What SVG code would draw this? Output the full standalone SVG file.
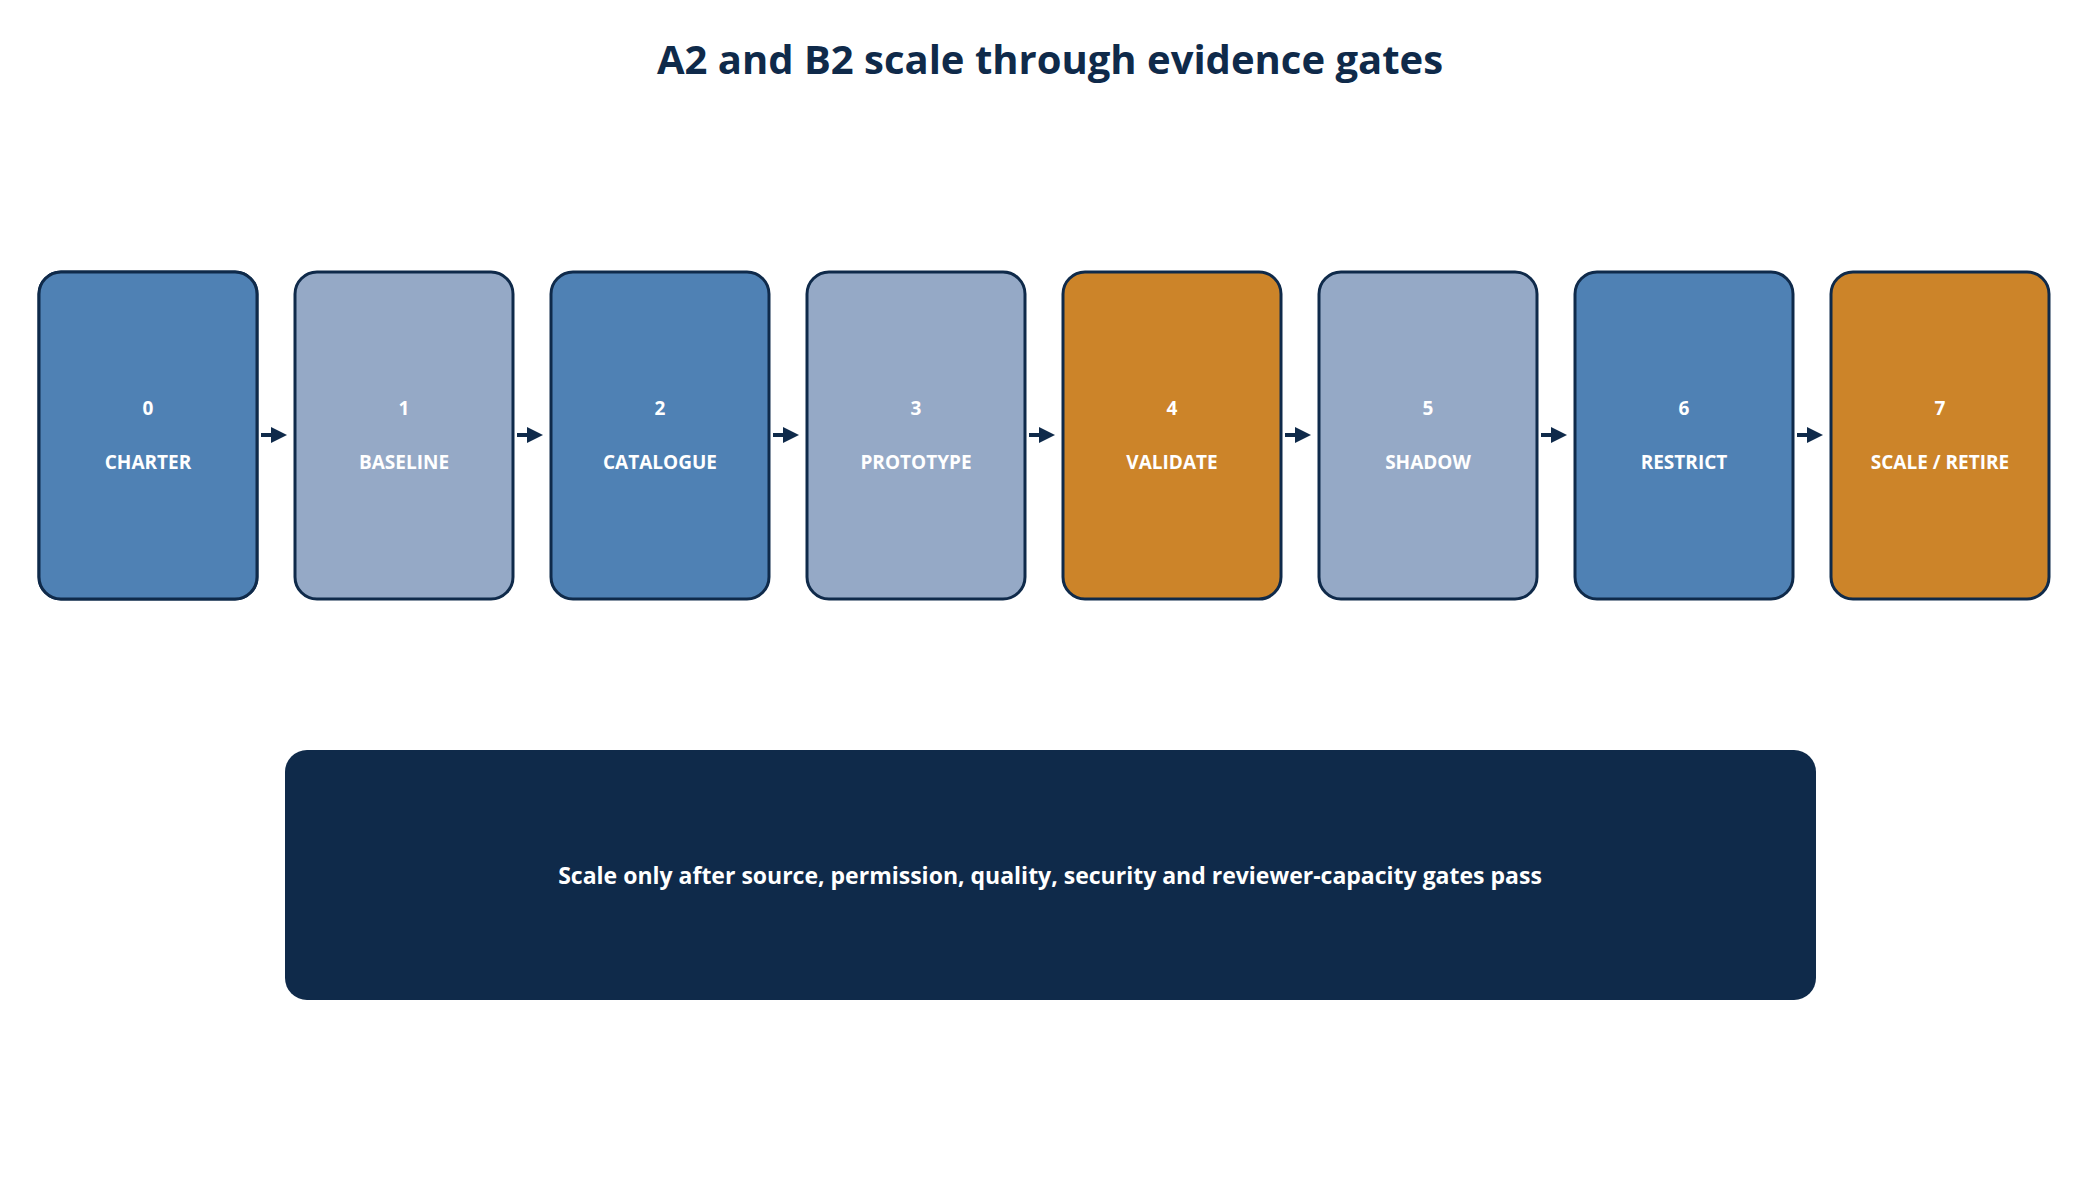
<svg xmlns="http://www.w3.org/2000/svg" width="2100" height="1180" viewBox="0 0 2100 1180">
<defs>
<style>
.n rect{stroke:#0f2a4a;stroke-width:3}
.t{font-family:"Open Sans","Noto Sans",sans-serif;font-weight:bold;fill:#fff;text-anchor:middle}
.s{font-size:19px}
.a{fill:#4f81b4}.b{fill:#95a9c6}.o{fill:#cc8429}
</style>
<marker id="ar" markerWidth="4" markerHeight="4" refX="3" refY="2" orient="auto" markerUnits="strokeWidth"><path d="M0,0L4,2L0,4z" fill="#0f2a4a"/></marker>
</defs>
<rect width="2100" height="1180" fill="#fff"/>
<text x="1050" y="74" font-family="Open Sans,Noto Sans,sans-serif" font-weight="bold" font-size="40" fill="#0f2a4a" text-anchor="middle">A2 and B2 scale through evidence gates</text>
<g id="n0" class="n"><rect class="a" x="39" y="272" width="218" height="327" rx="22"/></g>
<g id="s0" class="n"><rect class="a" x="39" y="272" width="218" height="327" rx="22"/><text class="t s" x="148" y="415">0</text><text class="t s" x="148" y="469">CHARTER</text></g>
<g id="s1" class="n"><rect class="b" x="295" y="272" width="218" height="327" rx="22"/><text class="t s" x="404" y="415">1</text><text class="t s" x="404" y="469">BASELINE</text></g>
<g id="s2" class="n"><rect class="a" x="551" y="272" width="218" height="327" rx="22"/><text class="t s" x="660" y="415">2</text><text class="t s" x="660" y="469">CATALOGUE</text></g>
<g id="s3" class="n"><rect class="b" x="807" y="272" width="218" height="327" rx="22"/><text class="t s" x="916" y="415">3</text><text class="t s" x="916" y="469">PROTOTYPE</text></g>
<g id="s4" class="n"><rect class="o" x="1063" y="272" width="218" height="327" rx="22"/><text class="t s" x="1172" y="415">4</text><text class="t s" x="1172" y="469">VALIDATE</text></g>
<g id="s5" class="n"><rect class="b" x="1319" y="272" width="218" height="327" rx="22"/><text class="t s" x="1428" y="415">5</text><text class="t s" x="1428" y="469">SHADOW</text></g>
<g id="s6" class="n"><rect class="a" x="1575" y="272" width="218" height="327" rx="22"/><text class="t s" x="1684" y="415">6</text><text class="t s" x="1684" y="469">RESTRICT</text></g>
<g id="s7" class="n"><rect class="o" x="1831" y="272" width="218" height="327" rx="22"/><text class="t s" x="1940" y="415">7</text><text class="t s" x="1940" y="469">SCALE / RETIRE</text></g>
<g id="connectors" stroke="#0f2a4a" stroke-width="4" marker-end="url(#ar)">
<line x1="261" y1="435" x2="283" y2="435"/>
<line x1="517" y1="435" x2="539" y2="435"/>
<line x1="773" y1="435" x2="795" y2="435"/>
<line x1="1029" y1="435" x2="1051" y2="435"/>
<line x1="1285" y1="435" x2="1307" y2="435"/>
<line x1="1541" y1="435" x2="1563" y2="435"/>
<line x1="1797" y1="435" x2="1819" y2="435"/>
</g>
<g id="note"><rect x="285" y="750" width="1531" height="250" rx="22" fill="#0f2a4a"/><text class="t" font-size="23" x="1050" y="884">Scale only after source, permission, quality, security and reviewer-capacity gates pass</text></g>
</svg>
